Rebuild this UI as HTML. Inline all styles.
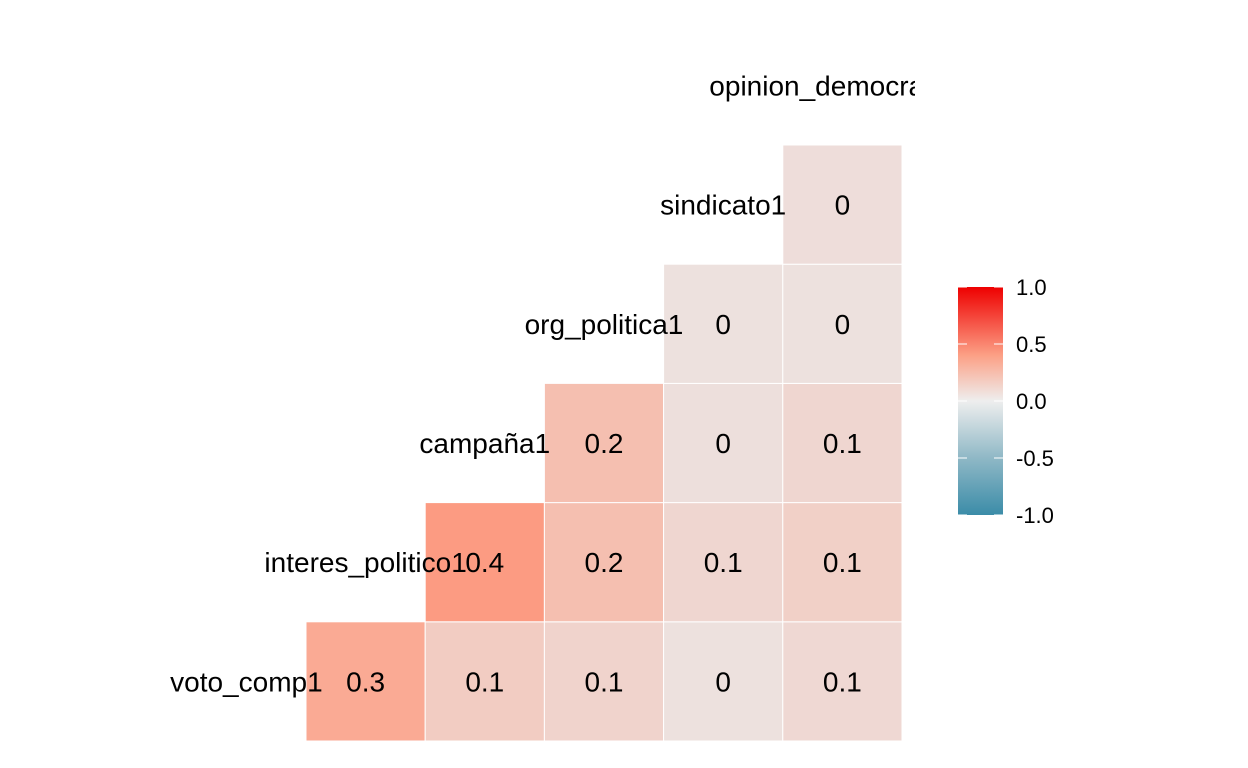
<!DOCTYPE html>
<html><head><meta charset="utf-8"><style>
html,body{margin:0;padding:0;background:#fff;}
svg{display:block;font-family:"Liberation Sans",Arial,sans-serif;}
</style></head><body>
<svg id="chart" width="1248" height="768" viewBox="0 0 1248 768">
<defs>
<clipPath id="panel"><rect x="0" y="0" width="915" height="768"/></clipPath>
<linearGradient id="lg" x1="0" y1="1" x2="0" y2="0">
<stop offset="0" stop-color="#3B8CA8"/><stop offset="0.25" stop-color="#8FB8C6"/><stop offset="0.5" stop-color="#EEEEEE"/><stop offset="0.7" stop-color="#FCA086"/><stop offset="1" stop-color="#EE0000"/>
</linearGradient>
</defs>
<g id="cells"></g>
<g id="labels" clip-path="url(#panel)"></g>
<g>
<rect x="958" y="287" width="45" height="228" fill="url(#lg)"/>
<g id="legticks"></g>
</g>
</svg>
<script>
const variables = ["voto_comp1","interes_politico1","campaña1","org_politica1","sindicato1","opinion_democracia1"];
const row0 = [0.34,0.14,0.10,0.02,0.07];
const row1 = [0.42,0.22,0.08,0.12];
const row2 = [0.22,0.03,0.08];
const row3 = [0.02,0.02];
const row4 = [0.04];
const legendTicks = [1.0,0.5,0.0,-0.5,-1.0];

const rows = [row0,row1,row2,row3,row4];
const X0=306, Y1=741, S=119.2;
const xc = c => X0 + c*S;
const yr = r => Y1 - (r+1)*S;
const NS="http://www.w3.org/2000/svg";
function lerp(a,b,t){return a.map((x,i)=>Math.round(x+(b[i]-x)*t));}
function color(v){
  let c;
  if(v>=0){
    c = v<=0.4 ? lerp([236,228,227],[252,160,134],v/0.4) : lerp([252,160,134],[238,0,0],(v-0.4)/0.6);
  } else {
    c = lerp([232,232,232],[59,140,168],Math.min(1,-v));
  }
  return `rgb(${c[0]},${c[1]},${c[2]})`;
}
const cells=document.getElementById('cells');
const labels=document.getElementById('labels');
rows.forEach((vals,r)=>{
  vals.forEach((v,k)=>{
    const c=r+k;
    const rect=document.createElementNS(NS,'rect');
    rect.setAttribute('x',xc(c));rect.setAttribute('y',yr(r));
    rect.setAttribute('width',S);rect.setAttribute('height',S);
    rect.setAttribute('fill',color(v));rect.setAttribute('stroke','#fff');rect.setAttribute('stroke-width','1');
    
    
    cells.appendChild(rect);
    const t=document.createElementNS(NS,'text');
    t.setAttribute('x',xc(c)+S/2);t.setAttribute('y',yr(r)+S/2+10);
    t.setAttribute('text-anchor','middle');t.setAttribute('font-size','28');t.setAttribute('fill','#000');
    t.textContent=(Math.round(v*10)/10).toString();
    
    
    cells.appendChild(t);
  });
});
variables.forEach((name,r)=>{
  const t=document.createElementNS(NS,'text');
  t.setAttribute('x',xc(r-1)+S/2);t.setAttribute('y',yr(r)+S/2+10);
  t.setAttribute('text-anchor','middle');t.setAttribute('font-size','28');t.setAttribute('fill','#000');
  t.textContent=name;
  
  
  labels.appendChild(t);
});
const lt=document.getElementById('legticks');
legendTicks.forEach(v=>{
  const y=287+(1-v)/2*228;
  [958,994].forEach(x=>{
    const l=document.createElementNS(NS,'line');
    l.setAttribute('x1',x);l.setAttribute('x2',x+9);l.setAttribute('y1',y);l.setAttribute('y2',y);
    l.setAttribute('stroke','#fff');l.setAttribute('stroke-width','1');
    
    
    lt.appendChild(l);
  });
  const t=document.createElementNS(NS,'text');
  t.setAttribute('x',1016);t.setAttribute('y',y+8);t.setAttribute('font-size','22');t.setAttribute('fill','#000');
  t.textContent=v.toFixed(1);
  
  
  lt.appendChild(t);
});
</script>
</body></html>
